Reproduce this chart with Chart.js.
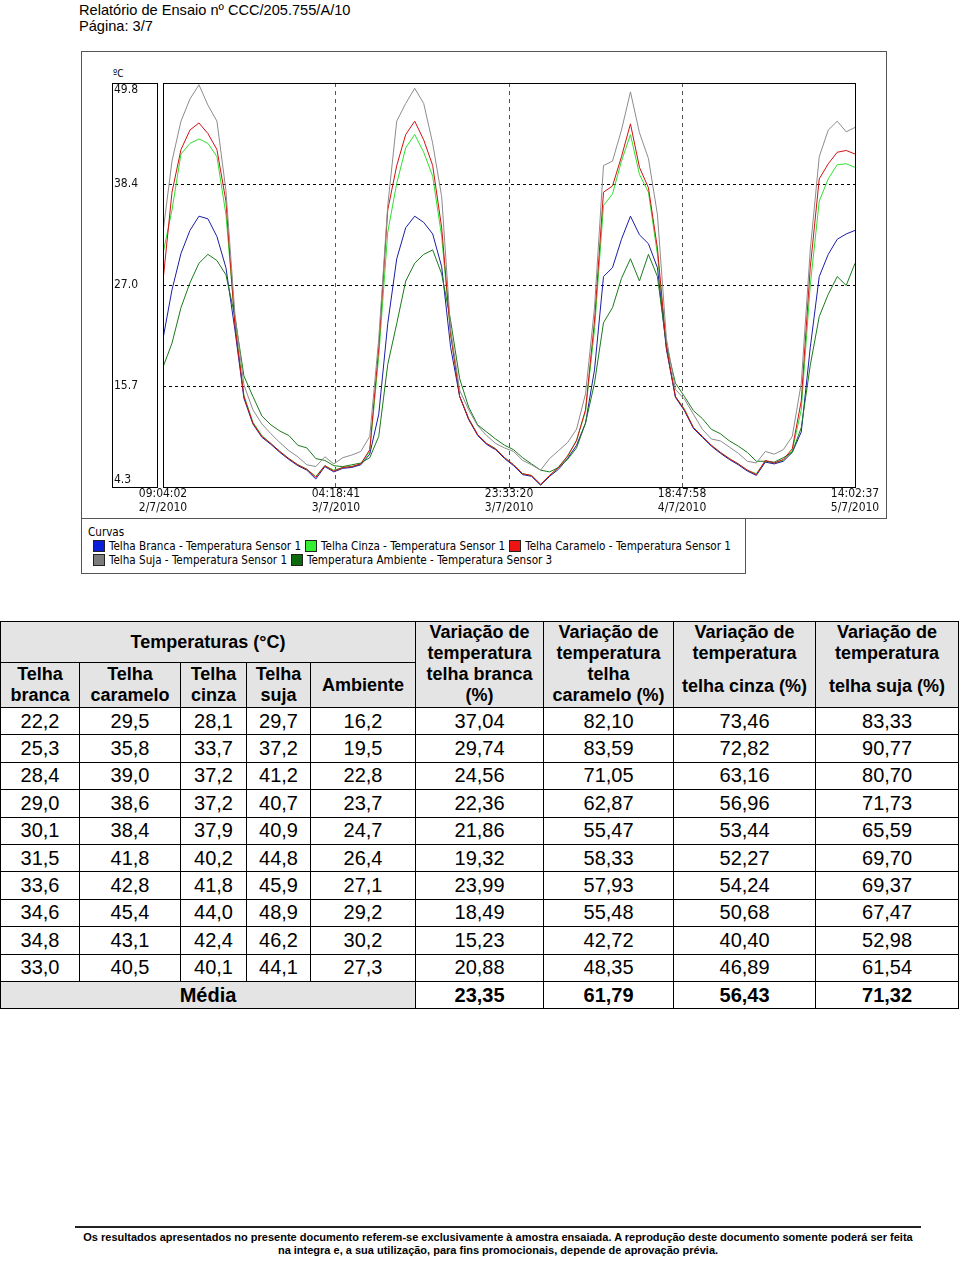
<!DOCTYPE html>
<html lang="pt">
<head>
    <meta charset="UTF-8">
    <title>Relatório de Ensaio nº CCC/205.755/A/10</title>
    <script src="https://cdn.jsdelivr.net/npm/chart.js"></script>
    <style>
        body {
            margin: 0;
            width: 960px;
            height: 1261px;
            position: relative;
            background: #fff;
            color: #000;
            font-family: "Liberation Sans", Arial, sans-serif;
        }

        .header {
            position: absolute;
            left: 79px;
            top: 2px;
            font-size: 14.6px;
            line-height: 16px;
        }

        .frame {
            position: absolute;
            left: 81px;
            top: 51px;
            width: 806px;
            height: 468px;
            border: 1px solid #555;
            box-sizing: border-box;
        }

        .chart-box {
            position: absolute;
            left: 81px;
            top: 51px;
            width: 805px;
            height: 467px;
        }

        .unit {
            position: absolute;
            left: 113px;
            top: 68px;
            font: 10px "DejaVu Sans Condensed", "DejaVu Sans", sans-serif;
        }

        .legend {
            position: absolute;
            left: 81px;
            top: 518px;
            width: 665px;
            height: 56px;
            border: 1px solid #555;
            box-sizing: border-box;
            padding: 6px 0 0 6px;
            font: 11.6px "DejaVu Sans Condensed", "DejaVu Sans", sans-serif;
            line-height: 14px;
        }

        .legend .row { padding-left: 5px; white-space: nowrap; }
        .legend .sw {
            display: inline-block;
            width: 10px;
            height: 10px;
            border: 1px solid #222;
            vertical-align: -2px;
            margin-right: 4px;
        }
        .legend .item { margin-right: 4px; }

        table {
            position: absolute;
            left: 0;
            top: 621px;
            width: 958px;
            border-collapse: collapse;
            table-layout: fixed;
        }

        td, th {
            border: 1px solid #000;
            padding: 0;
            text-align: center;
            vertical-align: middle;
        }

        th {
            background: #e4e4e4;
            font-size: 18px;
            font-weight: bold;
            line-height: 21px;
        }

        th.top { vertical-align: top; }
        td { font-size: 20px; height: 26.4px; }
        td.mean { background: #e4e4e4; font-weight: bold; }
        td.bold { font-weight: bold; }

        .footer {
            position: absolute;
            left: 75px;
            top: 1226px;
            width: 846px;
            border-top: 2px solid #222;
            border-bottom: 2px solid #222;
            text-align: center;
            font-size: 11px;
            font-weight: bold;
            line-height: 13px;
            padding: 3px 0 4px 0;
        }
    </style>
</head>
<body>
    <div class="header">Relatório de Ensaio nº CCC/205.755/A/10<br>Página: 3/7</div>

    <div class="frame"></div>
    <div class="unit">ºC</div>
    <div class="chart-box"><canvas id="chart"></canvas></div>

    <div class="legend">
        <div>Curvas</div>
        <div class="row" id="legendRow1"></div>
        <div class="row" id="legendRow2"></div>
    </div>

    <table id="table">
        <colgroup>
            <col style="width:79px"><col style="width:101px"><col style="width:66px"><col style="width:64px"><col style="width:105px">
            <col style="width:128px"><col style="width:130px"><col style="width:142px"><col style="width:143px">
        </colgroup>
        <thead>
            <tr style="height:41px">
                <th colspan="5">Temperaturas (°C)</th>
                <th rowspan="2" class="top">Variação de<br>temperatura<br>telha branca<br>(%)</th>
                <th rowspan="2" class="top">Variação de<br>temperatura<br>telha<br>caramelo (%)</th>
                <th rowspan="2" class="top">Variação de<br>temperatura<div style="height:12px"></div>telha cinza (%)</th>
                <th rowspan="2" class="top">Variação de<br>temperatura<div style="height:12px"></div>telha suja (%)</th>
            </tr>
            <tr style="height:45px">
                <th>Telha<br>branca</th>
                <th>Telha<br>caramelo</th>
                <th>Telha<br>cinza</th>
                <th>Telha<br>suja</th>
                <th>Ambiente</th>
            </tr>
        </thead>
        <tbody></tbody>
    </table>

    <div class="footer">Os resultados apresentados no presente documento referem-se exclusivamente à amostra ensaiada. A reprodução deste documento somente poderá ser feita<br>na integra e, a sua utilização, para fins promocionais, depende de aprovação prévia.</div>

    <script>
        // horas desde 09:04:02 de 2/7/2010 (uma leitura por hora)
        const hours = [
            0, 1, 2, 3, 4, 5, 6, 7, 8, 9, 10, 11, 12, 13, 14, 15, 16, 17, 18, 19,
            20, 21, 22, 23, 24, 25, 26, 27, 28, 29, 30, 31, 32, 33, 34, 35, 36, 37, 38,
            39, 40, 41, 42, 43, 44, 45, 46, 47, 48, 49, 50, 51, 52, 53, 54, 55, 56, 57,
            58, 59, 60, 61, 62, 63, 64, 65, 66, 67, 68, 69, 70, 71, 72, 73, 74, 75, 76, 76.98
        ];

        const telhaBranca = [
            21.0, 26.5, 30.6, 33.2, 34.8, 34.5, 32.5, 29.0, 22.0, 14.3, 11.4, 9.9, 9.1, 8.2, 7.4, 6.7, 6.2, 5.2, 6.6, 6.0,
            6.4, 6.5, 6.8, 8.0, 12.5, 22.7, 30.0, 33.5, 34.8, 34.1, 32.8, 29.1, 20.0, 14.5, 11.9, 10.1, 9.1, 8.5, 7.5,
            6.7, 5.7, 5.5, 4.5, 5.5, 6.3, 7.5, 9.0, 11.5, 17.5, 28.0, 29.0, 32.2, 34.8, 32.7, 31.7, 29.0, 19.8, 14.4,
            12.9, 10.9, 9.9, 8.9, 8.1, 7.4, 6.8, 6.1, 5.6, 7.1, 6.9, 7.2, 8.2, 10.5, 20.0, 28.0, 30.5, 32.2, 32.8, 33.2
        ];
        const telhaCinza = [
            30.6, 35.5, 41.8, 43.0, 43.5, 43.0, 41.5, 35.0, 23.0, 14.6, 11.6, 10.1, 9.2, 8.3, 7.5, 6.8, 6.3, 5.5, 6.7, 6.2,
            6.5, 6.6, 6.9, 8.3, 19.0, 33.0, 38.5, 42.5, 44.0, 42.0, 39.3, 32.5, 21.5, 14.5, 12.0, 10.2, 9.2, 8.6, 7.6,
            6.8, 5.8, 5.6, 4.6, 5.5, 6.6, 7.7, 9.6, 12.8, 22.0, 36.0, 37.3, 41.0, 44.0, 39.5, 37.5, 30.5, 20.0, 14.5,
            13.1, 11.0, 10.0, 9.0, 8.2, 7.5, 6.9, 6.2, 5.8, 7.2, 7.0, 7.3, 8.4, 13.0, 27.0, 36.5, 39.0, 40.6, 40.7, 40.3
        ];
        const telhaCaramelo = [
            27.5, 37.5, 42.3, 44.5, 45.3, 44.1, 42.3, 36.5, 22.5, 14.5, 11.5, 10.0, 9.2, 8.3, 7.5, 6.8, 6.3, 5.4, 6.7, 6.1,
            6.5, 6.6, 6.9, 8.5, 20.0, 35.5, 40.5, 44.0, 45.5, 43.4, 40.5, 33.5, 21.5, 14.5, 12.0, 10.2, 9.2, 8.6, 7.6,
            6.8, 5.8, 5.6, 4.6, 5.6, 6.5, 7.8, 9.5, 13.0, 23.0, 37.5, 38.2, 41.5, 45.2, 40.3, 38.0, 31.2, 20.0, 14.5,
            13.0, 11.0, 10.0, 9.0, 8.2, 7.5, 6.9, 6.2, 5.7, 7.3, 7.0, 7.4, 8.6, 14.0, 29.0, 39.0, 40.7, 42.0, 42.2, 41.8
        ];
        const telhaSuja = [
            33.0, 41.0, 45.5, 48.0, 49.6, 47.3, 45.5, 37.7, 23.8, 15.8, 13.0, 11.4, 10.3, 9.3, 8.4, 7.7, 6.8, 6.6, 7.7, 6.9,
            7.6, 7.9, 8.3, 10.0, 21.0, 36.0, 45.5, 47.5, 49.2, 47.5, 43.0, 37.0, 22.0, 15.2, 13.0, 11.2, 10.1, 9.2, 8.7,
            8.3, 7.3, 6.8, 6.2, 7.5, 8.4, 9.3, 10.8, 14.8, 24.5, 40.5, 41.0, 44.5, 48.8, 44.2, 41.3, 35.0, 21.0, 15.3,
            14.2, 12.5, 10.8, 9.7, 9.5, 8.8, 8.1, 7.2, 7.0, 8.3, 8.0, 8.5, 10.0, 16.0, 31.0, 41.5, 44.5, 45.5, 44.3, 44.8
        ];
        const ambiente = [
            17.8, 20.5, 24.5, 27.3, 29.5, 30.5, 29.8, 28.2, 23.5, 16.8, 14.5, 12.3, 11.3, 10.6, 10.1, 9.0, 8.7, 7.5, 7.3, 6.7,
            6.6, 6.8, 7.0, 7.6, 10.0, 18.1, 22.7, 27.5, 29.5, 30.5, 31.0, 28.3, 23.0, 16.5, 13.3, 11.3, 10.5, 9.7, 9.0,
            8.5, 7.6, 6.9, 6.2, 6.0, 6.5, 7.4, 8.7, 11.5, 16.0, 22.8, 24.5, 27.8, 30.0, 27.5, 30.5, 28.0, 20.3, 16.0,
            14.5, 12.9, 12.0, 10.8, 10.3, 9.5, 8.9, 8.2, 7.2, 7.2, 7.1, 7.6, 8.2, 11.0, 18.0, 23.5, 26.0, 28.0, 27.0, 29.5
        ];

        // eixos
        const xTickHours = [0, 19.244, 38.489, 57.733, 76.977];
        const xTickTimes = ['09:04:02', '04:18:41', '23:33:20', '18:47:58', '14:02:37'];
        const xTickDates = ['2/7/2010', '3/7/2010', '3/7/2010', '4/7/2010', '5/7/2010'];
        const yTickValues = [4.3, 15.675, 27.05, 38.425, 49.8];
        const yTickLabels = ['4.3', '15.7', '27.0', '38.4', '49.8'];

        // curvas (legenda)
        const seriesNames = [
            'Telha Branca - Temperatura Sensor 1',
            'Telha Cinza - Temperatura Sensor 1',
            'Telha Caramelo - Temperatura Sensor 1',
            'Telha Suja - Temperatura Sensor 1',
            'Temperatura Ambiente - Temperatura Sensor 3'
        ];
        const seriesColors = ['#1c1ca8', '#2ee02e', '#d01010', '#8c8c8c', '#1a7a1a'];
        const swatchColors = ['#0a1fd8', '#33ee33', '#ee1414', '#7c7c7c', '#0b6a0b'];

        // tabela
        const tBranca = ['22,2', '25,3', '28,4', '29,0', '30,1', '31,5', '33,6', '34,6', '34,8', '33,0'];
        const tCaramelo = ['29,5', '35,8', '39,0', '38,6', '38,4', '41,8', '42,8', '45,4', '43,1', '40,5'];
        const tCinza = ['28,1', '33,7', '37,2', '37,2', '37,9', '40,2', '41,8', '44,0', '42,4', '40,1'];
        const tSuja = ['29,7', '37,2', '41,2', '40,7', '40,9', '44,8', '45,9', '48,9', '46,2', '44,1'];
        const tAmbiente = ['16,2', '19,5', '22,8', '23,7', '24,7', '26,4', '27,1', '29,2', '30,2', '27,3'];
        const vBranca = ['37,04', '29,74', '24,56', '22,36', '21,86', '19,32', '23,99', '18,49', '15,23', '20,88'];
        const vCaramelo = ['82,10', '83,59', '71,05', '62,87', '55,47', '58,33', '57,93', '55,48', '42,72', '48,35'];
        const vCinza = ['73,46', '72,82', '63,16', '56,96', '53,44', '52,27', '54,24', '50,68', '40,40', '46,89'];
        const vSuja = ['83,33', '90,77', '80,70', '71,73', '65,59', '69,70', '69,37', '67,47', '52,98', '61,54'];
        const medias = ['23,35', '61,79', '56,43', '71,32'];

        const tableBody = document.querySelector('#table tbody');
        tBranca.forEach((_, i) => {
            const row = document.createElement('tr');
            [tBranca, tCaramelo, tCinza, tSuja, tAmbiente, vBranca, vCaramelo, vCinza, vSuja].forEach(col => {
                const cell = document.createElement('td');
                cell.textContent = col[i];
                row.appendChild(cell);
            });
            tableBody.appendChild(row);
        });
        const meanRow = document.createElement('tr');
        meanRow.innerHTML = '<td colspan="5" class="mean">Média</td>' + medias.map(m => `<td class="bold">${m}</td>`).join('');
        tableBody.appendChild(meanRow);

        // legenda
        const legendOrder = [[0, 1, 2], [3, 4]];
        legendOrder.forEach((items, r) => {
            const holder = document.getElementById('legendRow' + (r + 1));
            items.forEach(i => {
                const span = document.createElement('span');
                span.className = 'item';
                span.innerHTML = `<span class="sw" style="background:${swatchColors[i]}"></span>${seriesNames[i]}`;
                holder.appendChild(span);
            });
        });

        const seriesValues = [telhaBranca, telhaCinza, telhaCaramelo, telhaSuja, ambiente];
        const drawOrder = [3, 4, 1, 0, 2];

        const framePlugin = {
            id: 'frames',
            afterDraw(chart) {
                const { ctx, chartArea: a, scales: { y } } = chart;
                ctx.save();
                ctx.strokeStyle = '#000';
                ctx.lineWidth = 1;
                ctx.strokeRect(Math.round(a.left) + 0.5, Math.round(a.top) + 0.5, Math.round(a.width), Math.round(a.height));
                ctx.strokeRect(Math.round(y.left) - 1.5, Math.round(a.top) + 0.5, Math.round(a.left - y.left) - 4, Math.round(a.height));
                ctx.restore();
            }
        };

        const tickFont = { family: '"DejaVu Sans Condensed", "DejaVu Sans", sans-serif', size: 12, lineHeight: 1.18 };
        const edge = (ctx, n) => (ctx.index === 0 || ctx.index === n - 1) ? 'rgba(0,0,0,0)' : undefined;

        new Chart(document.getElementById('chart'), {
            type: 'line',
            data: {
                datasets: seriesValues.map((vals, i) => ({
                    label: seriesNames[i],
                    data: hours.map((h, k) => ({ x: h, y: vals[k] })),
                    borderColor: seriesColors[i],
                    borderWidth: 1,
                    pointRadius: 0,
                    tension: 0,
                    order: drawOrder[i]
                }))
            },
            options: {
                responsive: true,
                maintainAspectRatio: false,
                animation: false,
                layout: { padding: { left: 33, top: 32, right: 31, bottom: 0 } },
                plugins: { legend: { display: false }, tooltip: { enabled: false } },
                scales: {
                    x: {
                        type: 'linear',
                        min: xTickHours[0],
                        max: xTickHours[xTickHours.length - 1],
                        afterBuildTicks: s => { s.ticks = xTickHours.map(v => ({ value: v })); },
                        afterFit: s => { s.height = 31; s.paddingLeft = 0; s.paddingRight = 0; },
                        ticks: {
                            autoSkip: false,
                            maxRotation: 0,
                            padding: 0,
                            color: '#111',
                            font: tickFont,
                            callback: (v, i) => [xTickTimes[i], xTickDates[i]]
                        },
                        grid: {
                            drawTicks: false,
                            color: ctx => edge(ctx, xTickHours.length) || '#555'
                        },
                        border: { display: false, dash: [4, 4] }
                    },
                    y: {
                        min: yTickValues[0],
                        max: yTickValues[yTickValues.length - 1],
                        afterBuildTicks: s => { s.ticks = yTickValues.map(v => ({ value: v })); },
                        afterFit: s => { s.width = 49; s.paddingTop = 0; s.paddingBottom = 0; },
                        ticks: {
                            crossAlign: 'far',
                            color: '#111',
                            font: tickFont,
                            callback: (v, i) => {
                                if (i === yTickLabels.length - 1) return ['', yTickLabels[i]];
                                if (i === 0) return [yTickLabels[i], ''];
                                return yTickLabels[i];
                            }
                        },
                        grid: {
                            drawTicks: false,
                            color: ctx => edge(ctx, yTickValues.length) || '#000'
                        },
                        border: { display: false, dash: [3, 3] }
                    }
                }
            },
            plugins: [framePlugin]
        });
    </script>
</body>
</html>
